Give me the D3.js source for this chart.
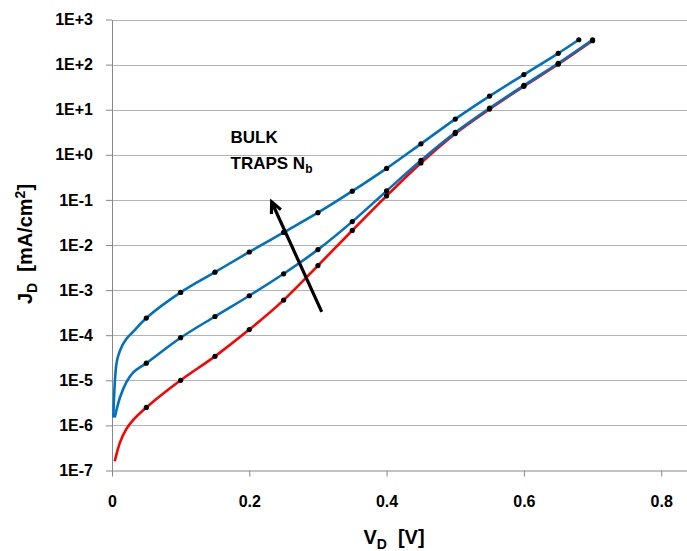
<!DOCTYPE html>
<html>
<head>
<meta charset="utf-8">
<script src="https://cdn.jsdelivr.net/npm/d3@7"></script>
<style>
	body { margin: 0; background: #fff; }
	svg { display: block; font-family: "Liberation Sans", Arial, sans-serif; font-weight: bold; }
</style>
</head>
<body>
<div id="chart"></div>
<script>
// J-V curves, three bulk trap densities
// curve start (no markers)
const headV_red = [0.004, 0.0117, 0.021, 0.031];
const headJ_red = [1.6e-7, 4.2e-7, 8.4e-7, 1.33e-6];
const headV_mid = [0.004, 0.0117, 0.021, 0.031];
const headJ_mid = [1.5e-6, 4.2e-6, 9.1e-6, 1.5e-5];
const headV_top = [0.0019, 0.0068, 0.0117, 0.021, 0.031];
const headJ_top = [1.5e-6, 2.5e-5, 4.6e-5, 8.3e-5, 1.2e-4];

// marked points
const dotV = [0.05, 0.1, 0.15, 0.2, 0.25, 0.3, 0.35, 0.4, 0.45, 0.5, 0.55, 0.6, 0.65, 0.7];
const dotV_top = [0.05, 0.1, 0.15, 0.2, 0.25, 0.3, 0.35, 0.4, 0.45, 0.5, 0.55, 0.6, 0.65, 0.68];
const J_red = [2.5e-6, 1.0e-5, 3.4e-5, 1.33e-4, 6.0e-4, 3.5e-3, 2.1e-2, 0.123, 0.66, 2.95, 10.3, 33, 102, 340];
const J_mid = [2.4e-5, 8.8e-5, 2.6e-4, 7.5e-4, 2.3e-3, 7.9e-3, 3.3e-2, 0.158, 0.75, 3.13, 10.8, 34.6, 107, 356];
const J_top = [2.4e-4, 8.9e-4, 2.5e-3, 7.0e-3, 1.9e-2, 5.2e-2, 0.156, 0.5, 1.75, 6.2, 20, 60, 178, 356];

const xTicks = [0, 0.2, 0.4, 0.6, 0.8];
const yTicks = [1e-7, 1e-6, 1e-5, 1e-4, 1e-3, 1e-2, 1e-1, 1e0, 1e1, 1e2, 1e3];

const width = 687, height = 551;
const BLUE = "#0070c0", RED = "#ff0000";

const svg = d3.select("#chart").append("svg")
	.attr("width", width)
	.attr("height", height);

// 0.2 V = 137.3 px, plot runs past the right edge
const x = d3.scaleLinear().domain([0, 0.9]).range([112, 112 + 0.9 * 686.5]);
const y = d3.scaleLog().domain([1e-7, 1e3]).range([470.5, 19.5]);

// gridlines
svg.append("g")
	.selectAll("line")
	.data(yTicks.slice(1))
	.join("line")
	.attr("x1", x(0)).attr("x2", width)
	.attr("y1", d => Math.round(y(d)) + 0.5).attr("y2", d => Math.round(y(d)) + 0.5)
	.attr("stroke", "#b4b4b4")
	.attr("stroke-width", 1.2);

function expLabel(d) {
	const e = Math.round(Math.log10(d));
	return "1E" + (e >= 0 ? "+" : "") + e;
}

// axes
const yAxis = svg.append("g")
	.attr("transform", `translate(${x(0)},0)`)
	.call(d3.axisLeft(y).tickValues(yTicks).tickFormat(expLabel).tickSize(6).tickPadding(13).tickSizeOuter(0));
yAxis.select(".domain").attr("stroke", "#888");
yAxis.selectAll(".tick line").attr("stroke", "#888");
yAxis.selectAll("text")
	.attr("fill", "#000")
	.style("font-size", "16px")
	.style("font-weight", "bold");

const xAxis = svg.append("g")
	.attr("transform", `translate(0,${y(1e-7)})`)
	.call(d3.axisBottom(x).tickValues(xTicks).tickFormat(d => d === 0 ? "0" : d3.format(".1f")(d)).tickSize(6).tickSizeOuter(0));
xAxis.select(".domain").attr("stroke", "#888").attr("d", `M${x(0)},0.5H${width}`);
xAxis.selectAll(".tick line").attr("stroke", "#888");
xAxis.selectAll("text")
	.attr("fill", "#000")
	.attr("y", 36)
	.attr("dy", null)
	.style("font-size", "16px")
	.style("font-weight", "bold");

// curves
const series = [
	{ color: RED, head: d3.zip(headV_red, headJ_red), dots: d3.zip(dotV, J_red) },
	{ color: BLUE, head: d3.zip(headV_mid, headJ_mid), dots: d3.zip(dotV, J_mid) },
	{ color: BLUE, head: d3.zip(headV_top, headJ_top), dots: d3.zip(dotV_top, J_top) }
];

// smoothed like the spreadsheet's "smooth line"
const line = d3.line()
	.x(d => x(d[0]))
	.y(d => y(d[1]))
	.curve(d3.curveCatmullRom.alpha(0.5));

svg.append("g")
	.selectAll("path")
	.data(series)
	.join("path")
	.attr("d", s => line(s.head.concat(s.dots)))
	.attr("fill", "none")
	.attr("stroke", s => s.color)
	.attr("stroke-width", 2.6);

svg.append("g")
	.selectAll("circle")
	.data(series.flatMap(s => s.dots))
	.join("circle")
	.attr("cx", d => x(d[0]))
	.attr("cy", d => y(d[1]))
	.attr("r", 2.6)
	.attr("fill", "#000");

// arrow: bulk traps increasing
const arrowTail = [0.3055, 3.3e-4], arrowTip = [0.2326, 0.09];
const tx = x(arrowTip[0]), ty = y(arrowTip[1]);
const sx = x(arrowTail[0]), sy = y(arrowTail[1]);
const ang = Math.atan2(sy - ty, sx - tx);
const headLen = 12, headAng = 0.45;
svg.append("line")
	.attr("x1", sx).attr("y1", sy)
	.attr("x2", tx).attr("y2", ty)
	.attr("stroke", "#000")
	.attr("stroke-width", 3.2);
svg.append("path")
	.attr("d", `M${tx + headLen * Math.cos(ang - headAng)},${ty + headLen * Math.sin(ang - headAng)}L${tx},${ty}L${tx + headLen * Math.cos(ang + headAng)},${ty + headLen * Math.sin(ang + headAng)}`)
	.attr("fill", "none")
	.attr("stroke", "#000")
	.attr("stroke-width", 3.2)
	.attr("stroke-linejoin", "miter");

const note = svg.append("g").style("font-size", "17px").attr("fill", "#000");
note.append("text").attr("x", 230.5).attr("y", 142.5).text("BULK");
const t2 = note.append("text").attr("x", 230.5).attr("y", 168.5);
t2.append("tspan").text("TRAPS N");
t2.append("tspan").attr("dy", 4).style("font-size", "12px").text("b");

// axis titles
const xt = svg.append("text")
	.attr("x", 394).attr("y", 544)
	.attr("text-anchor", "middle")
	.style("font-size", "20px");
xt.append("tspan").text("V");
xt.append("tspan").attr("dy", 5).style("font-size", "14px").text("D");
xt.append("tspan").attr("dy", -5).text("\u00a0 [V]");

const yt = svg.append("text")
	.attr("transform", "translate(32,244) rotate(-90)")
	.attr("text-anchor", "middle")
	.style("font-size", "20px");
yt.append("tspan").text("J");
yt.append("tspan").attr("dy", 5).style("font-size", "14px").text("D");
yt.append("tspan").attr("dy", -5).text("\u00a0 [mA/cm");
yt.append("tspan").attr("dy", -7).style("font-size", "14px").text("2");
yt.append("tspan").attr("dy", 7).text("]");
</script>
</body>
</html>
